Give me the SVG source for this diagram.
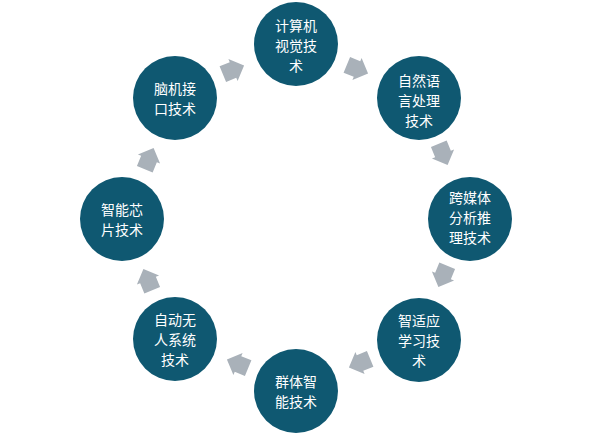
<svg xmlns="http://www.w3.org/2000/svg" width="600" height="434" viewBox="0 0 600 434">
<style>
.n{fill:#0f5871}
.t{fill:#ffffff;font-family:"Noto Sans CJK SC","Noto Sans",sans-serif;font-size:14px;text-anchor:middle;dominant-baseline:central}
.a{fill:#a9b1b9}
</style>
<defs>
<polygon id="arr" points="-11,-8.5 0,-8.5 0,-12 12,0 0,12 0,8.5 -11,8.5"/>
</defs>
<rect width="600" height="434" fill="#ffffff"/>
<g id="connectors">
<g transform="translate(233,70) rotate(-22.5)"><use href="#arr" class="a"/></g>
<g transform="translate(357,69) rotate(22.5)"><use href="#arr" class="a"/></g>
<g transform="translate(443,154) rotate(67.5)"><use href="#arr" class="a"/></g>
<g transform="translate(443,276) rotate(112.5)"><use href="#arr" class="a"/></g>
<g transform="translate(360,363) rotate(157.5)"><use href="#arr" class="a"/></g>
<g transform="translate(238,364) rotate(202.5)"><use href="#arr" class="a"/></g>
<g transform="translate(148,280) rotate(247.5)"><use href="#arr" class="a"/></g>
<g transform="translate(149,159) rotate(292.5)"><use href="#arr" class="a"/></g>
</g>
<g id="n1"><circle class="n" cx="296" cy="44" r="42"/>
<text class="t" x="296" y="25">计算机</text><text class="t" x="296" y="45">视觉技</text><text class="t" x="296" y="65">术</text></g>
<g id="n2"><circle class="n" cx="419" cy="98" r="42"/>
<text class="t" x="419" y="80">自然语</text><text class="t" x="419" y="100">言处理</text><text class="t" x="419" y="120">技术</text></g>
<g id="n3"><circle class="n" cx="470" cy="219" r="42"/>
<text class="t" x="470" y="197">跨媒体</text><text class="t" x="470" y="217">分析推</text><text class="t" x="470" y="237">理技术</text></g>
<g id="n4"><circle class="n" cx="419" cy="340" r="42"/>
<text class="t" x="419" y="320">智适应</text><text class="t" x="419" y="340">学习技</text><text class="t" x="419" y="360">术</text></g>
<g id="n5"><circle class="n" cx="296" cy="391" r="42"/>
<text class="t" x="296" y="381">群体智</text><text class="t" x="296" y="401">能技术</text></g>
<g id="n6"><circle class="n" cx="175" cy="339" r="42"/>
<text class="t" x="175" y="319">自动无</text><text class="t" x="175" y="339">人系统</text><text class="t" x="175" y="359">技术</text></g>
<g id="n7"><circle class="n" cx="122" cy="219" r="42"/>
<text class="t" x="122" y="209">智能芯</text><text class="t" x="122" y="229">片技术</text></g>
<g id="n8"><circle class="n" cx="175" cy="98" r="42"/>
<text class="t" x="175" y="88">脑机接</text><text class="t" x="175" y="108">口技术</text></g>
</svg>
